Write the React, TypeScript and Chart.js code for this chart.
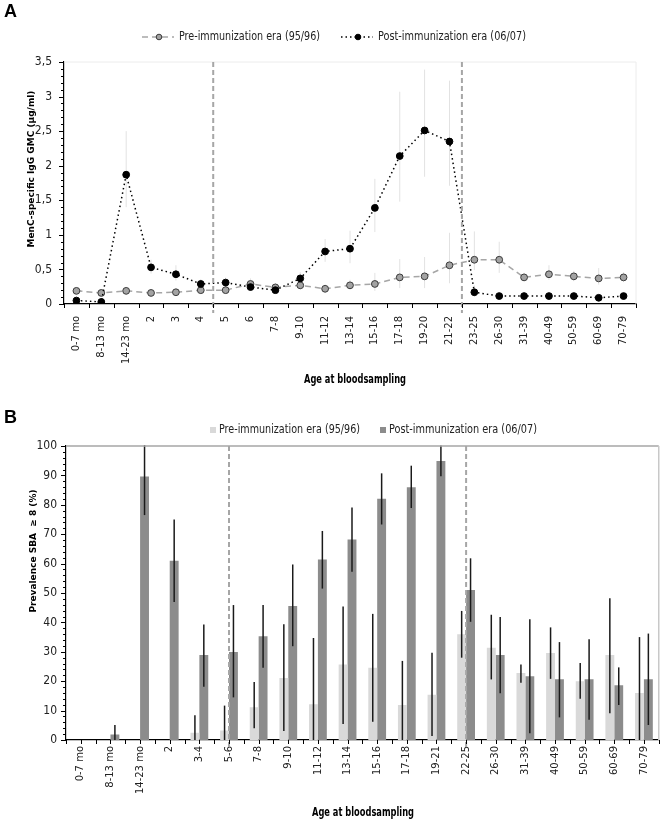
import React, { useEffect, useRef } from "react";
import { Chart, registerables } from "chart.js";

Chart.register(...registerables);

// ---- Panel A: MenC-specific IgG GMC by age ----
const gmcAges = [
  "0-7 mo", "8-13 mo", "14-23 mo", "2", "3", "4", "5", "6", "7-8", "9-10", "11-12", "13-14",
  "15-16", "17-18", "19-20", "21-22", "23-25", "26-30", "31-39", "40-49", "50-59", "60-69", "70-79",
];
const gmcPre = [0.19, 0.16, 0.19, 0.16, 0.17, 0.2, 0.2, 0.29, 0.24, 0.27, 0.22, 0.27, 0.29, 0.385, 0.4, 0.56, 0.64, 0.64, 0.385, 0.43, 0.4, 0.37, 0.385];
const gmcPreLow = [0.15, 0.13, 0.15, 0.13, 0.14, 0.16, 0.16, 0.22, 0.19, 0.21, 0.17, 0.21, 0.19, 0.23, 0.23, 0.3, 0.49, 0.45, 0.33, 0.35, 0.33, 0.28, 0.32];
const gmcPreHigh = [0.23, 0.2, 0.24, 0.2, 0.21, 0.25, 0.25, 0.37, 0.3, 0.34, 0.28, 0.35, 0.45, 0.65, 0.68, 1.03, 1.05, 0.9, 0.45, 0.56, 0.48, 0.52, 0.46];
const gmcPost = [0.05, 0.03, 1.87, 0.53, 0.43, 0.29, 0.31, 0.245, 0.2, 0.37, 0.76, 0.8, 1.39, 2.14, 2.51, 2.35, 0.17, 0.115, 0.115, 0.115, 0.115, 0.09, 0.115];
const gmcPostLow = [0.03, 0.02, 1.4, 0.44, 0.34, 0.24, 0.25, 0.2, 0.16, 0.3, 0.61, 0.59, 1.04, 1.48, 1.84, 1.71, 0.11, 0.09, 0.09, 0.09, 0.09, 0.07, 0.09];
const gmcPostHigh = [0.08, 0.05, 2.5, 0.64, 0.56, 0.36, 0.38, 0.3, 0.26, 0.46, 0.94, 1.06, 1.81, 3.07, 3.39, 3.23, 0.27, 0.15, 0.15, 0.15, 0.15, 0.12, 0.15];
const gmcTicks = [0, 0.5, 1, 1.5, 2, 2.5, 3, 3.5];
const gmcBreaks = [5.5, 15.5];

// ---- Panel B: prevalence SBA >= 8 by age ----
const sbaAges = [
  "0-7 mo", "8-13 mo", "14-23 mo", "2", "3-4", "5-6", "7-8", "9-10", "11-12", "13-14",
  "15-16", "17-18", "19-21", "22-25", "26-30", "31-39", "40-49", "50-59", "60-69", "70-79",
];
const sbaPre = [0, 0, 0, 0, 2.5, 3.2, 11.1, 21.1, 12.2, 25.7, 24.6, 11.9, 15.4, 36.0, 31.4, 22.8, 29.6, 20.0, 28.9, 16.0];
const sbaPreLow = [null, null, null, null, 0, 0, 4, 3.1, 0, 5.4, 6.2, 0, 1.4, 28.0, 20.6, 19.5, 20.8, 14.0, 9.1, 0];
const sbaPreHigh = [null, null, null, null, 8.4, 11.7, 19.7, 39.4, 34.7, 45.4, 42.9, 26.9, 29.7, 43.9, 42.6, 25.7, 38.3, 26.2, 48.2, 35.0];
const sbaPost = [0, 1.9, 89.6, 61.0, 28.9, 29.9, 35.3, 45.6, 61.4, 68.2, 82.1, 86.0, 94.9, 51.0, 28.9, 21.7, 20.7, 20.7, 18.6, 20.7];
const sbaPostLow = [null, 0, 76.5, 46.9, 18.1, 14.5, 24.6, 31.9, 51.5, 57.2, 73.3, 78.9, 89.7, 40.2, 15.9, 2.3, 7.7, 6.9, 11.9, 5.1];
const sbaPostHigh = [null, 5.1, 100.3, 75.0, 39.3, 45.9, 45.9, 59.7, 71.1, 79.1, 90.7, 93.3, 100.2, 61.8, 41.8, 41.1, 33.3, 34.3, 24.7, 36.2];
const sbaTicks = [0, 10, 20, 30, 40, 50, 60, 70, 80, 90, 100];
const sbaBreaks = [5, 13];

const PRE_LABEL = "Pre-immunization era (95/96)";
const POST_LABEL = "Post-immunization era (06/07)";
const NARROW = '"Liberation Sans Narrow", "DejaVu Sans Condensed", "Noto Sans", sans-serif';
const WIDE = '"DejaVu Sans", Verdana, sans-serif';

type ErrorSet = { low: (number | null)[]; high: (number | null)[]; color: string; width: number };
type LegendItem = {
  label: string;
  kind: "line" | "box";
  x: number;
  textWidth: number;
  color: string;
  dash?: number[];
  fill?: string;
  stroke?: string;
};

interface DecorConfig {
  letter: string;
  letterY: number;
  yTitle: string;
  yTitleX: number;
  yTitleY: number;
  yTitleWidth: number;
  xTitle: string;
  xTitleX: number;
  xTitleY: number;
  breaks: number[];
  breakBottom: number;
  xTickPositions: number[];
  yMajor: number[];
  yMinorStep: number;
  errors: ErrorSet[];
  errorsOnTop: boolean;
  legend: LegendItem[];
  legendY: number;
  topBorder: string;
  rightBorder: string;
  borderWidth: number;
}

function makeDecor(cfg: DecorConfig) {
  const drawErrors = (chart: any) => {
    const { ctx } = chart;
    const y = chart.scales.y;
    cfg.errors.forEach((err, i) => {
      const meta = chart.getDatasetMeta(i);
      ctx.save();
      ctx.strokeStyle = err.color;
      ctx.lineWidth = err.width;
      meta.data.forEach((el: any, j: number) => {
        const lo = err.low[j];
        const hi = err.high[j];
        if (lo == null || hi == null) return;
        ctx.beginPath();
        ctx.moveTo(el.x, y.getPixelForValue(lo));
        ctx.lineTo(el.x, y.getPixelForValue(hi));
        ctx.stroke();
      });
      ctx.restore();
    });
  };

  return {
    id: "decor",
    beforeDatasetsDraw(chart: any) {
      if (!cfg.errorsOnTop) drawErrors(chart);
    },
    afterDatasetsDraw(chart: any) {
      if (cfg.errorsOnTop) drawErrors(chart);
    },
    afterDraw(chart: any) {
      const { ctx, chartArea: a } = chart;
      const x = chart.scales.x;
      const y = chart.scales.y;
      ctx.save();

      // plot frame (top and right)
      ctx.lineWidth = cfg.borderWidth;
      ctx.strokeStyle = cfg.topBorder;
      ctx.beginPath();
      ctx.moveTo(a.left, a.top);
      ctx.lineTo(a.right, a.top);
      ctx.stroke();
      ctx.strokeStyle = cfg.rightBorder;
      ctx.beginPath();
      ctx.moveTo(a.right, a.top);
      ctx.lineTo(a.right, a.bottom);
      ctx.stroke();

      // era dividers
      ctx.strokeStyle = "#a6a6a6";
      ctx.lineWidth = 2;
      ctx.setLineDash([5, 3]);
      cfg.breaks.forEach((b) => {
        const px = x.getPixelForValue(b);
        ctx.beginPath();
        ctx.moveTo(px, a.top);
        ctx.lineTo(px, cfg.breakBottom);
        ctx.stroke();
      });
      ctx.setLineDash([]);

      // tick marks
      ctx.strokeStyle = "#000";
      ctx.lineWidth = 1;
      cfg.xTickPositions.forEach((p) => {
        const px = Math.round(x.getPixelForValue(p)) + 0.5;
        ctx.beginPath();
        ctx.moveTo(px, a.bottom);
        ctx.lineTo(px, a.bottom + 4);
        ctx.stroke();
      });
      const yMax = cfg.yMajor[cfg.yMajor.length - 1];
      for (let v = cfg.yMajor[0]; v <= yMax + 1e-9; v += cfg.yMinorStep) {
        const major = cfg.yMajor.some((m) => Math.abs(m - v) < 1e-6);
        const py = Math.round(y.getPixelForValue(v)) + 0.5;
        ctx.beginPath();
        ctx.moveTo(a.left - (major ? 5 : 3), py);
        ctx.lineTo(a.left, py);
        ctx.stroke();
      }

      // panel letter
      ctx.fillStyle = "#000";
      ctx.font = 'bold 18px "Liberation Sans", Arial, sans-serif';
      ctx.textAlign = "left";
      ctx.textBaseline = "top";
      ctx.fillText(cfg.letter, 4, cfg.letterY);

      // axis titles
      ctx.font = `bold 9px ${WIDE}`;
      ctx.textAlign = "center";
      ctx.textBaseline = "middle";
      ctx.save();
      ctx.translate(cfg.yTitleX, cfg.yTitleY);
      ctx.rotate(-Math.PI / 2);
      ctx.fillText(cfg.yTitle, 0, 0, cfg.yTitleWidth);
      ctx.restore();
      ctx.font = `bold 13px ${NARROW}`;
      ctx.fillText(cfg.xTitle, cfg.xTitleX, cfg.xTitleY, 102);

      // legend
      ctx.font = `13px ${NARROW}`;
      ctx.textAlign = "left";
      ctx.textBaseline = "middle";
      const ly = cfg.legendY;
      cfg.legend.forEach((item) => {
        let tx = item.x;
        if (item.kind === "line") {
          ctx.strokeStyle = item.color;
          ctx.lineWidth = 1.5;
          ctx.setLineDash(item.dash || []);
          ctx.beginPath();
          ctx.moveTo(item.x, ly);
          ctx.lineTo(item.x + 32, ly);
          ctx.stroke();
          ctx.setLineDash([]);
          ctx.beginPath();
          ctx.arc(item.x + 17, ly, 2.8, 0, Math.PI * 2);
          ctx.fillStyle = item.fill || item.color;
          ctx.fill();
          ctx.strokeStyle = item.stroke || item.color;
          ctx.lineWidth = 1;
          ctx.stroke();
          tx = item.x + 37;
        } else {
          ctx.fillStyle = item.color;
          ctx.fillRect(item.x, ly - 3, 6, 6);
          tx = item.x + 9;
        }
        ctx.fillStyle = "#222";
        ctx.fillText(item.label, tx, ly, item.textWidth);
      });

      ctx.restore();
    },
  };
}

const halfSteps = (n: number, step: number) => {
  const out: number[] = [];
  for (let k = 0; k <= n / step; k++) out.push(k * step - 0.5);
  return out;
};

const flatGrid = { display: false, drawTicks: false, tickLength: 0 };
const axisBorder = { display: true, color: "#000", width: 1.2 };

function GmcPanel() {
  const ref = useRef<HTMLCanvasElement | null>(null);

  useEffect(() => {
    if (!ref.current) return;
    const chart = new Chart(ref.current, {
      type: "line",
      data: {
        labels: gmcAges,
        datasets: [
          {
            label: PRE_LABEL,
            data: gmcPre,
            borderColor: "#a6a6a6",
            borderDash: [6, 4],
            borderWidth: 1.5,
            pointRadius: 3.4,
            pointBackgroundColor: "#a3a3a3",
            pointBorderColor: "#3a3a3a",
            pointBorderWidth: 1,
            tension: 0,
            order: 2,
          },
          {
            label: POST_LABEL,
            data: gmcPost,
            borderColor: "#000",
            borderDash: [1.5, 3],
            borderWidth: 1.5,
            pointRadius: 3.4,
            pointBackgroundColor: "#000",
            pointBorderColor: "#000",
            pointBorderWidth: 1,
            tension: 0,
            order: 1,
          },
        ],
      },
      options: {
        responsive: false,
        animation: false,
        layout: { padding: { top: 62, right: 26, left: 0, bottom: 0 } },
        plugins: { legend: { display: false }, tooltip: { enabled: false } },
        scales: {
          x: {
            type: "category",
            offset: true,
            grid: flatGrid,
            border: axisBorder,
            ticks: {
              autoSkip: false,
              minRotation: 90,
              maxRotation: 90,
              padding: 12,
              color: "#222",
              font: { family: WIDE, size: 10 },
            },
            afterFit: (s: any) => {
              s.height = 96;
            },
          },
          y: {
            min: 0,
            max: 3.5,
            grid: flatGrid,
            border: axisBorder,
            afterBuildTicks: (s: any) => {
              s.ticks = gmcTicks.map((v) => ({ value: v }));
            },
            ticks: {
              padding: 12,
              color: "#222",
              font: { family: NARROW, size: 12 },
              callback: (v: any) => String(v).replace(".", ","),
            },
            afterFit: (s: any) => {
              s.width = 64;
            },
          },
        },
      },
      plugins: [
        makeDecor({
          letter: "A",
          letterY: 3,
          yTitle: "MenC-specific IgG GMC (µg/ml)",
          yTitleX: 32,
          yTitleY: 169,
          yTitleWidth: 162,
          xTitle: "Age at bloodsampling",
          xTitleX: 355,
          xTitleY: 380,
          breaks: gmcBreaks,
          breakBottom: 313,
          xTickPositions: halfSteps(gmcAges.length, 1),
          yMajor: gmcTicks,
          yMinorStep: 0.1,
          errors: [
            { low: gmcPreLow, high: gmcPreHigh, color: "#e2e2e2", width: 1 },
            { low: gmcPostLow, high: gmcPostHigh, color: "#e2e2e2", width: 1 },
          ],
          errorsOnTop: false,
          legend: [
            { label: PRE_LABEL, kind: "line", x: 142, textWidth: 141, color: "#a6a6a6", dash: [6, 4], fill: "#a3a3a3", stroke: "#3a3a3a" },
            { label: POST_LABEL, kind: "line", x: 341, textWidth: 148, color: "#000", dash: [1.5, 3], fill: "#000", stroke: "#000" },
          ],
          legendY: 37,
          topBorder: "#ececec",
          rightBorder: "#ececec",
          borderWidth: 1,
        }),
      ],
    } as any);
    return () => {
      chart.destroy();
    };
  }, []);

  return <canvas ref={ref} width={662} height={400} style={{ display: "block" }} />;
}

function SbaPanel() {
  const ref = useRef<HTMLCanvasElement | null>(null);

  useEffect(() => {
    if (!ref.current) return;
    const chart = new Chart(ref.current, {
      type: "bar",
      data: {
        labels: sbaAges,
        datasets: [
          {
            label: PRE_LABEL,
            data: sbaPre,
            backgroundColor: "#d9d9d9",
            categoryPercentage: 0.6,
            barPercentage: 1.0,
          },
          {
            label: POST_LABEL,
            data: sbaPost,
            backgroundColor: "#8c8c8c",
            categoryPercentage: 0.6,
            barPercentage: 1.0,
          },
        ],
      },
      options: {
        responsive: false,
        animation: false,
        layout: { padding: { top: 46, right: 3, left: 0, bottom: 0 } },
        plugins: { legend: { display: false }, tooltip: { enabled: false } },
        scales: {
          x: {
            grid: flatGrid,
            border: axisBorder,
            ticks: {
              autoSkip: false,
              minRotation: 90,
              maxRotation: 90,
              padding: 6,
              color: "#222",
              font: { family: WIDE, size: 10 },
            },
            afterFit: (s: any) => {
              s.height = 82;
            },
          },
          y: {
            min: 0,
            max: 100,
            grid: flatGrid,
            border: axisBorder,
            afterBuildTicks: (s: any) => {
              s.ticks = sbaTicks.map((v) => ({ value: v }));
            },
            ticks: {
              padding: 9,
              color: "#222",
              font: { family: NARROW, size: 12 },
            },
            afterFit: (s: any) => {
              s.width = 66;
            },
          },
        },
      },
      plugins: [
        makeDecor({
          letter: "B",
          letterY: 9,
          yTitle: "Prevalence SBA  \u2265 8 (%)",
          yTitleX: 34,
          yTitleY: 151,
          yTitleWidth: 126,
          xTitle: "Age at bloodsampling",
          xTitleX: 363,
          xTitleY: 413,
          breaks: sbaBreaks,
          breakBottom: 348,
          xTickPositions: halfSteps(sbaAges.length, 0.5),
          yMajor: sbaTicks,
          yMinorStep: 2,
          errors: [
            { low: sbaPreLow, high: sbaPreHigh, color: "#1a1a1a", width: 1.5 },
            { low: sbaPostLow, high: sbaPostHigh, color: "#1a1a1a", width: 1.5 },
          ],
          errorsOnTop: true,
          legend: [
            { label: PRE_LABEL, kind: "box", x: 210, textWidth: 141, color: "#d9d9d9" },
            { label: POST_LABEL, kind: "box", x: 380, textWidth: 148, color: "#8c8c8c" },
          ],
          legendY: 30,
          topBorder: "#a6a6a6",
          rightBorder: "#c8c8c8",
          borderWidth: 1.5,
        }),
      ],
    } as any);
    return () => {
      chart.destroy();
    };
  }, []);

  return <canvas ref={ref} width={662} height={422} style={{ display: "block" }} />;
}

export default function App() {
  useEffect(() => {
    document.body.style.margin = "0";
  }, []);

  return (
    <div style={{ width: 662, background: "#fff" }}>
      <GmcPanel />
      <SbaPanel />
    </div>
  );
}
